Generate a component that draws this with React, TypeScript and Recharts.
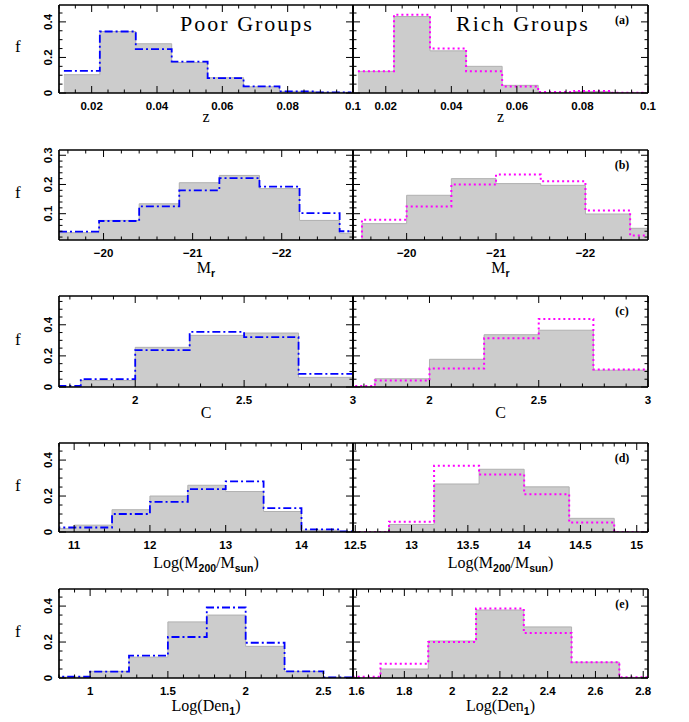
import { ComposedChart, Area, Line, XAxis, YAxis } from "recharts"

// ── values ───────────────────────────────────────────────────────────────────

// (a) redshift
const zEdges = [0.0115, 0.0225, 0.0335, 0.0445, 0.0555, 0.0665, 0.0775, 0.0885, 0.0995]
const zPoorFill = [0.103, 0.346, 0.277, 0.172, 0.086, 0.035, 0.009, 0.004]
const zPoorLine = [0.125, 0.346, 0.247, 0.176, 0.084, 0.037, 0.009, 0.004]
const zRichFill = [0.122, 0.43, 0.237, 0.15, 0.043, 0.003, 0.008, 0.001]
const zRichLine = [0.122, 0.44, 0.25, 0.122, 0.037, 0.005, 0.011, 0.002]

// (b) absolute magnitude
const mPoorEdges = [-19.5, -19.95, -20.4, -20.85, -21.3, -21.75, -22.2, -22.65, -23.1]
const mPoorFill = [0.035, 0.077, 0.134, 0.206, 0.231, 0.186, 0.077, 0.033]
const mPoorLine = [0.039, 0.075, 0.125, 0.18, 0.222, 0.193, 0.102, 0.04]
const mRichEdges = [-19.0, -19.5, -20, -20.5, -21, -21.5, -22, -22.5, -23]
const mRichFill = [0, 0.066, 0.163, 0.22, 0.203, 0.197, 0.099, 0.05]
const mRichLine = [0, 0.079, 0.125, 0.2, 0.234, 0.211, 0.111, 0.025]

// (c) concentration
const cEdges = [1.5, 1.75, 2.0, 2.25, 2.5, 2.75, 3.0]
const cPoorFill = [0, 0.042, 0.255, 0.332, 0.347, 0.062]
const cPoorLine = [0.007, 0.05, 0.237, 0.354, 0.321, 0.084]
const cRichFill = [0, 0.053, 0.178, 0.336, 0.365, 0.108]
const cRichLine = [0.007, 0.042, 0.119, 0.314, 0.437, 0.112]

// (d) group mass
const dPoorEdges = [10.5, 11, 11.5, 12, 12.5, 13, 13.5, 14, 14.5, 15]
const dPoorFill = [0.02, 0.038, 0.124, 0.2, 0.26, 0.225, 0.114, 0.01, 0]
const dPoorLine = [0.025, 0.025, 0.1, 0.168, 0.238, 0.282, 0.133, 0.015, 0.003]
const dRichEdges = [12.4, 12.8, 13.2, 13.6, 14.0, 14.4, 14.8, 15.2]
const dRichFill = [0, 0.042, 0.267, 0.349, 0.251, 0.076, 0]
const dRichLine = [0, 0.057, 0.368, 0.32, 0.21, 0.053, 0]

// (e) local density
const ePoorEdges = [0.75, 1.0, 1.25, 1.5, 1.75, 2.0, 2.25, 2.5, 2.75]
const ePoorFill = [0.005, 0.037, 0.116, 0.312, 0.35, 0.176, 0.037, 0.004]
const ePoorLine = [0.007, 0.035, 0.125, 0.228, 0.392, 0.196, 0.037, 0.004]
const eRichEdges = [1.5, 1.7, 1.9, 2.1, 2.3, 2.5, 2.7, 2.9]
const eRichFill = [0, 0.05, 0.206, 0.378, 0.284, 0.088, 0.003]
const eRichLine = [0.007, 0.079, 0.2, 0.387, 0.25, 0.088, 0.004]

// tick labels
const zTicks = [0.02, 0.04, 0.06, 0.08, 0.1]
const mTicks = [-20, -21, -22]
const cTicks = [2, 2.5, 3]
const dPoorTicks = [11, 12, 13, 14]
const dRichTicks = [12.5, 13, 13.5, 14, 14.5, 15]
const ePoorTicks = [1, 1.5, 2, 2.5]
const eRichTicks = [1.6, 1.8, 2, 2.2, 2.4, 2.6, 2.8]
const fTicks = [0, 0.2, 0.4]
const fTicksB = [0.1, 0.2, 0.3]

// ── helpers ──────────────────────────────────────────────────────────────────

const BLUE = "#0000ff"
const MAGENTA = "#ff00ff"
const TICK_FONT = "'Liberation Sans', Arial, sans-serif"
const SERIF = "'Liberation Serif', 'Times New Roman', serif"

function steps(edges: number[], fill: number[], line: number[]) {
  const pts = fill.map((f, i) => ({ x: edges[i], fill: f, line: line[i] }))
  const n = fill.length - 1
  pts.push({ x: edges[n + 1], fill: fill[n], line: line[n] })
  return pts
}

function minorTicks(domain: [number, number], step: number) {
  const out: number[] = []
  const start = Math.ceil(domain[0] / step - 1e-6) * step
  for (let v = start; v <= domain[1] + 1e-9; v += step) out.push(+v.toFixed(6))
  return out
}

const fmt = (v: number) => (v < 0 ? "\u2212" + String(Math.abs(v)) : String(v))

function Tick(props: any) {
  const { x, y, payload, majors, side, showLabel } = props
  const v = payload.value
  const m = majors.find((t: number) => Math.abs(t - v) < 1e-6)
  const len = m !== undefined ? 7 : 3.5
  let end = [x, y]
  if (side === "bottom") end = [x, y - len]
  else if (side === "top") end = [x, y + len]
  else if (side === "left") end = [x + len, y]
  else end = [x - len, y]
  return (
    <g>
      <line x1={x} y1={y} x2={end[0]} y2={end[1]} stroke="#000" strokeWidth={1} />
      {showLabel && m !== undefined && side === "bottom" && (
        <text x={x} y={y + 17} textAnchor="middle" fontFamily={TICK_FONT} fontSize={11.5} fontWeight="bold" fill="#000">
          {fmt(m)}
        </text>
      )}
      {showLabel && m !== undefined && side === "left" && (
        <text
          x={x - 11}
          y={y}
          dy="0.35em"
          transform={`rotate(-90 ${x - 11} ${y})`}
          textAnchor="middle"
          fontFamily={TICK_FONT}
          fontSize={11.5}
          fontWeight="bold"
          fill="#000"
        >
          {fmt(m)}
        </text>
      )}
    </g>
  )
}

type Side = {
  data: { x: number; fill: number; line: number }[]
  domain: [number, number]
  majors: number[]
  minor: number
}

type Row = {
  top: number
  height: number
  yDomain: [number, number]
  yMajors: number[]
  yMinor: number
  reversed?: boolean
  tag: string
  title: React.ReactNode
  titleDrop: number
  poor: Side
  rich: Side
}

const PL = 59
const PM = 353
const PR = 648

function Sub({ children }: { children: React.ReactNode }) {
  return (
    <span style={{ fontSize: 10.5, fontWeight: "bold", fontFamily: TICK_FONT, position: "relative", top: 4 }}>
      {children}
    </span>
  )
}

const rows: Row[] = [
  {
    top: 5, height: 88, yDomain: [0, 0.495], yMajors: fTicks, yMinor: 0.05, tag: "(a)",
    title: <>z</>, titleDrop: 29,
    poor: { data: steps(zEdges, zPoorFill, zPoorLine), domain: [0.01, 0.1], majors: zTicks, minor: 0.005 },
    rich: { data: steps(zEdges, zRichFill, zRichLine), domain: [0.01, 0.1], majors: zTicks, minor: 0.005 },
  },
  {
    top: 150, height: 90, yDomain: [0.01, 0.318], yMajors: fTicksB, yMinor: 0.02, tag: "(b)", reversed: true,
    title: <>M<Sub>r</Sub></>, titleDrop: 33,
    poor: { data: steps(mPoorEdges, mPoorFill, mPoorLine), domain: [-22.8, -19.5], majors: mTicks, minor: 0.2 },
    rich: { data: steps(mRichEdges, mRichFill, mRichLine), domain: [-22.7, -19.4], majors: mTicks, minor: 0.2 },
  },
  {
    top: 296, height: 91, yDomain: [0, 0.585], yMajors: fTicks, yMinor: 0.05, tag: "(c)",
    title: <>C</>, titleDrop: 31,
    poor: { data: steps(cEdges, cPoorFill, cPoorLine), domain: [1.65, 3.0], majors: cTicks, minor: 0.1 },
    rich: { data: steps(cEdges, cRichFill, cRichLine), domain: [1.65, 3.0], majors: cTicks, minor: 0.1 },
  },
  {
    top: 443, height: 89, yDomain: [0, 0.495], yMajors: fTicks, yMinor: 0.05, tag: "(d)",
    title: <>Log(M<Sub>200</Sub>/M<Sub>sun</Sub>)</>, titleDrop: 36,
    poor: { data: steps(dPoorEdges, dPoorFill, dPoorLine), domain: [10.8, 14.68], majors: dPoorTicks, minor: 0.2 },
    rich: { data: steps(dRichEdges, dRichFill, dRichLine), domain: [12.48, 15.1], majors: dRichTicks, minor: 0.1 },
  },
  {
    top: 589, height: 89, yDomain: [0, 0.495], yMajors: fTicks, yMinor: 0.05, tag: "(e)",
    title: <>Log(Den<Sub>1</Sub>)</>, titleDrop: 33,
    poor: { data: steps(ePoorEdges, ePoorFill, ePoorLine), domain: [0.8, 2.69], majors: ePoorTicks, minor: 0.1 },
    rich: { data: steps(eRichEdges, eRichFill, eRichLine), domain: [1.585, 2.82], majors: eRichTicks, minor: 0.05 },
  },
]

// ── one histogram panel ──────────────────────────────────────────────────────

function Panel({ row, side, which }: { row: Row; side: Side; which: "poor" | "rich" }) {
  const isLeft = which === "poor"
  const left = isLeft ? 0 : PM - 23
  const width = isLeft ? PM + 19 : 689 - left
  // every axis takes 1px (a 0px axis is not drawn), so the margins give it back
  const margin = isLeft
    ? { top: 9, left: PL - 1, right: width - PM - 1, bottom: 47 }
    : { top: 9, left: 22, right: width - (PR - left) - 1, bottom: 47 }
  const xTicks = minorTicks(side.domain, side.minor)
  const yTicks = minorTicks(row.yDomain, row.yMinor)
  const frame = { stroke: "#000", strokeWidth: 1.7 }
  const xProps = {
    type: "number" as const,
    dataKey: "x",
    domain: side.domain,
    allowDataOverflow: true,
    reversed: row.reversed,
    ticks: xTicks,
    interval: 0 as const,
    height: 1,
    tickSize: 0,
    tickMargin: 0,
    tickLine: false,
    axisLine: frame,
  }
  const yProps = {
    type: "number" as const,
    domain: row.yDomain,
    allowDataOverflow: true,
    ticks: yTicks,
    interval: 0 as const,
    width: 1,
    tickSize: 0,
    tickMargin: 0,
    tickLine: false,
    axisLine: frame,
  }
  const color = isLeft ? BLUE : MAGENTA
  return (
    <div style={{ position: "absolute", left, top: row.top - 10 }}>
      <ComposedChart width={width} height={row.height + 58} data={side.data} margin={margin}>
        <Area
          xAxisId="b"
          yAxisId="l"
          type="stepAfter"
          dataKey="fill"
          fill="#cccccc"
          fillOpacity={1}
          stroke="#b0b0b0"
          strokeWidth={1}
          isAnimationActive={false}
        />
        <Line
          xAxisId="b"
          yAxisId="l"
          type="stepAfter"
          dataKey="line"
          stroke={color}
          strokeWidth={isLeft ? 1.8 : 2}
          strokeDasharray={isLeft ? "8 3 2 3" : "2 3"}
          dot={false}
          isAnimationActive={false}
        />
        <XAxis
          {...xProps}
          xAxisId="b"
          orientation="bottom"
          tick={(p: any) => <Tick {...p} majors={side.majors} side="bottom" showLabel />}
        />
        <XAxis
          {...xProps}
          xAxisId="t"
          orientation="top"
          tick={(p: any) => <Tick {...p} majors={side.majors} side="top" />}
        />
        <YAxis
          {...yProps}
          yAxisId="l"
          orientation="left"
          tick={(p: any) => <Tick {...p} majors={row.yMajors} side="left" showLabel={isLeft} />}
        />
        <YAxis
          {...yProps}
          yAxisId="r"
          orientation="right"
          tick={(p: any) => <Tick {...p} majors={row.yMajors} side="right" />}
        />
      </ComposedChart>
      <div
        style={{
          position: "absolute",
          left: isLeft ? (PL + PM) / 2 : (PM + PR) / 2 - left,
          top: row.height + 10 + row.titleDrop - 15,
          transform: "translateX(-50%)",
          fontFamily: SERIF,
          fontSize: 16,
          lineHeight: "19px",
          whiteSpace: "nowrap",
        }}
      >
        {row.title}
      </div>
    </div>
  )
}

export default function App() {
  return (
    <div style={{ position: "absolute", left: 0, top: 0, width: 689, height: 722, background: "#fff" }}>
      {rows.map((row) => (
        <div key={row.tag}>
          <Panel row={row} side={row.poor} which="poor" />
          <Panel row={row} side={row.rich} which="rich" />
          <div
            style={{
              position: "absolute",
              left: 15,
              top: row.top + row.height / 2 - 12,
              fontFamily: SERIF,
              fontSize: 17,
              lineHeight: "20px",
            }}
          >
            f
          </div>
          <div
            style={{
              position: "absolute",
              left: 622,
              top: row.top + 8,
              transform: "translateX(-50%)",
              fontFamily: SERIF,
              fontWeight: "bold",
              fontSize: 12,
              lineHeight: "14px",
            }}
          >
            {row.tag}
          </div>
        </div>
      ))}
      <div
        style={{
          position: "absolute",
          left: 247,
          top: 11,
          transform: "translateX(-50%)",
          fontFamily: SERIF,
          fontSize: 22,
          letterSpacing: 2,
          lineHeight: "26px",
          whiteSpace: "nowrap",
        }}
      >
        Poor Groups
      </div>
      <div
        style={{
          position: "absolute",
          left: 523,
          top: 11,
          transform: "translateX(-50%)",
          fontFamily: SERIF,
          fontSize: 22,
          letterSpacing: 2,
          lineHeight: "26px",
          whiteSpace: "nowrap",
        }}
      >
        Rich Groups
      </div>
    </div>
  )
}
